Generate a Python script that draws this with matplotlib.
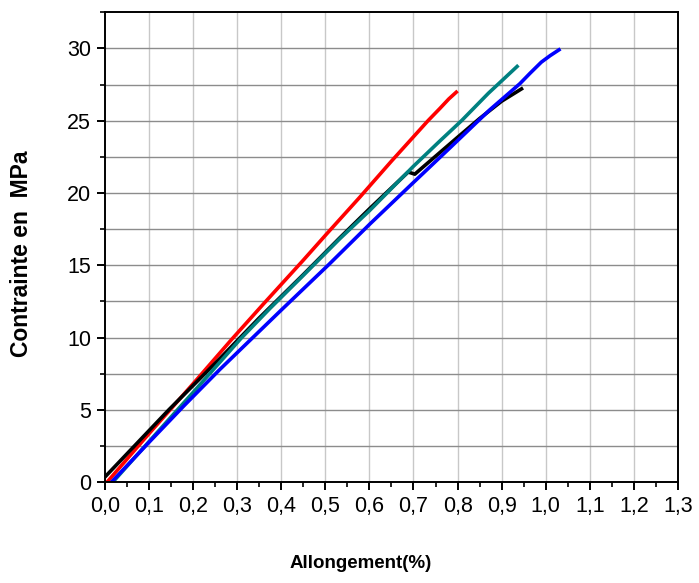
import matplotlib
matplotlib.use("Agg")
import matplotlib.pyplot as plt
from matplotlib.ticker import MultipleLocator, FuncFormatter

plt.rcParams['font.family'] = ['Liberation Sans', 'DejaVu Sans']

# Stress-strain curves: elongation (%) and stress (MPa)
red_x = [0.005, 0.1, 0.2, 0.287, 0.359, 0.45, 0.504, 0.578, 0.65, 0.733, 0.76, 0.78, 0.797]
red_y = [0.0, 3.35, 6.8, 9.85, 12.3, 15.35, 17.2, 19.7, 22.2, 25.0, 25.85, 26.5, 26.97]

teal_x = [0.018, 0.1, 0.2, 0.261, 0.309, 0.374, 0.45, 0.533, 0.601, 0.7, 0.76, 0.809, 0.87, 0.935]
teal_y = [0.0, 2.8, 6.2, 8.3, 9.95, 12.0, 14.3, 16.84, 18.8, 21.85, 23.6, 25.0, 26.9, 28.75]

black_x = [0.0, 0.145, 0.261, 0.35, 0.45, 0.533, 0.6, 0.688, 0.703, 0.72, 0.76, 0.8, 0.85, 0.9, 0.945]
black_y = [0.35, 5.0, 8.55, 11.35, 14.35, 16.9, 18.9, 21.45, 21.3, 21.75, 22.8, 23.85, 25.15, 26.35, 27.2]

blue_x = [0.015, 0.1, 0.18, 0.261, 0.339, 0.40, 0.508, 0.601, 0.699, 0.782, 0.873, 0.941, 0.965, 0.99, 1.01, 1.03]
blue_y = [0.0, 2.75, 5.3, 7.8, 10.1, 11.9, 15.05, 17.85, 20.7, 23.1, 25.75, 27.55, 28.3, 29.05, 29.5, 29.9]

fig = plt.figure(figsize=(6.99, 5.83), dpi=100)
ax = fig.add_axes([0.150, 0.173, 0.820, 0.806])

lw = 2.6
ax.plot(red_x, red_y, color='#ff0000', lw=lw, zorder=3)
ax.plot(black_x, black_y, color='#000000', lw=lw, zorder=4)
ax.plot(teal_x, teal_y, color='#008080', lw=lw, zorder=5)
ax.plot(blue_x, blue_y, color='#0000ff', lw=lw, zorder=6)

ax.set_xlim(0, 1.3)
ax.set_ylim(0, 32.5)

ax.xaxis.set_major_locator(MultipleLocator(0.1))
ax.xaxis.set_minor_locator(MultipleLocator(0.05))
ax.yaxis.set_major_locator(MultipleLocator(5))
ax.yaxis.set_minor_locator(MultipleLocator(2.5))
ax.xaxis.set_major_formatter(FuncFormatter(lambda v, p: f"{v:.1f}".replace('.', ',')))
ax.yaxis.set_major_formatter(FuncFormatter(lambda v, p: f"{v:.0f}"))

# Grid: vertical at major x ticks, horizontal at every 2.5 MPa
for xv in [i / 10 for i in range(1, 13)]:
    ax.axvline(xv, color='#c8c8c8', lw=1.0, zorder=1)
for yv in [i * 2.5 for i in range(1, 13)]:
    ax.axhline(yv, color='#8c8c8c', lw=1.0, zorder=1)

for s in ax.spines.values():
    s.set_linewidth(1.4)
    s.set_zorder(10)

ax.tick_params(axis='both', which='major', direction='out', length=6, width=1.4,
               labelsize=15.5, pad=4, top=False, right=False)
ax.tick_params(axis='both', which='minor', direction='out', length=3.5, width=1.2,
               top=False, right=False)

ax.set_xlabel('Allongement(%)', fontsize=13.5, fontweight='bold')
ax.set_ylabel('Contrainte en  MPa', fontsize=16.5, fontweight='bold')
ax.xaxis.set_label_coords(0.447, -0.155)
ax.yaxis.set_label_coords(-0.126, 0.485)

fig.savefig('out.png', dpi=100)
